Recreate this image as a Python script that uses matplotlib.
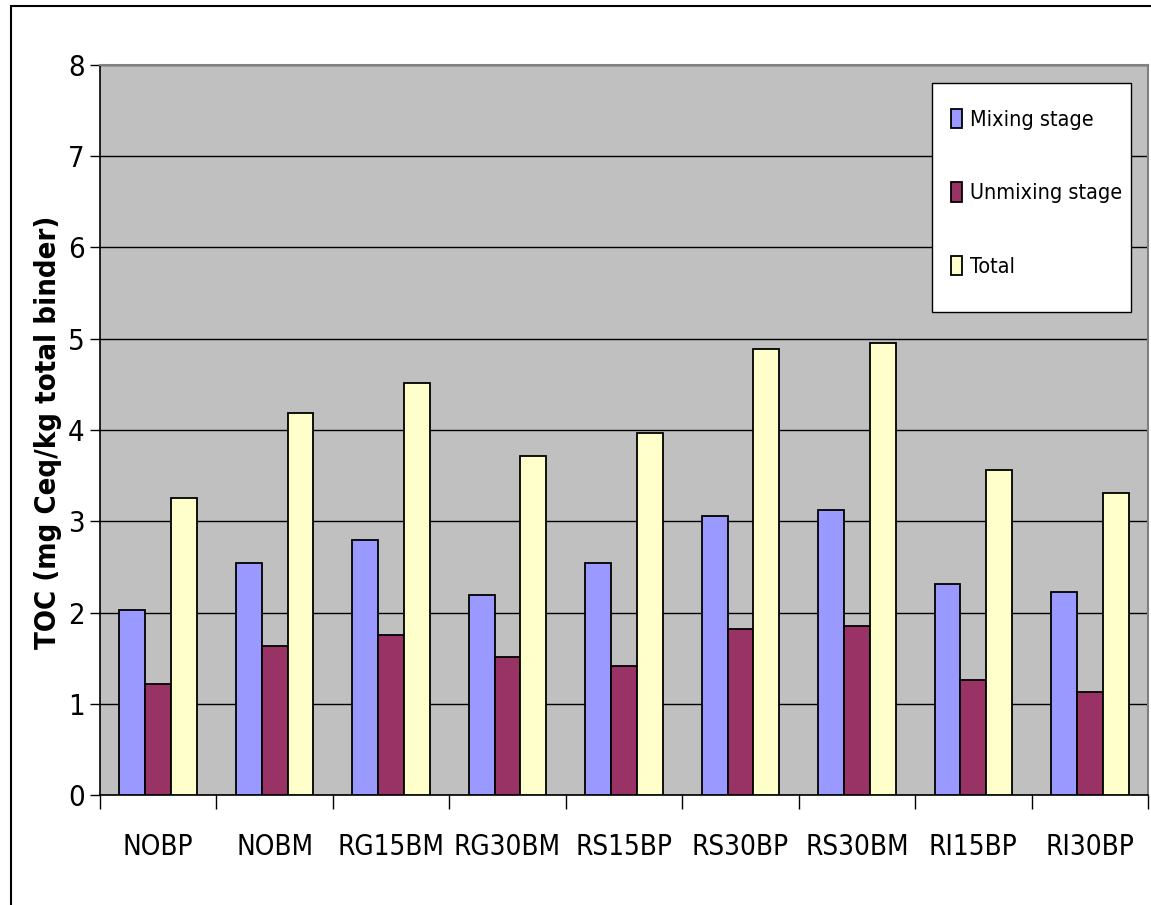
import matplotlib
matplotlib.use("Agg")
import matplotlib.pyplot as plt
import numpy as np
from matplotlib import font_manager
from matplotlib.font_manager import FontProperties
from matplotlib.patches import Rectangle
from matplotlib.ticker import FixedLocator, NullFormatter

categories = ["NOBP", "NOBM", "RG15BM", "RG30BM", "RS15BP",
              "RS30BP", "RS30BM", "RI15BP", "RI30BP"]
mixing = [2.03, 2.54, 2.79, 2.19, 2.54, 3.06, 3.12, 2.31, 2.22]
unmixing = [1.22, 1.63, 1.75, 1.51, 1.41, 1.82, 1.85, 1.26, 1.13]
total = [3.26, 4.19, 4.52, 3.72, 3.97, 4.89, 4.95, 3.56, 3.31]
series_names = ["Mixing stage", "Unmixing stage", "Total"]
y_ticks = [0, 1, 2, 3, 4, 5, 6, 7, 8]
y_label = "TOC (mg Ceq/kg total binder)"

colors = ["#9999FF", "#993366", "#FFFFCC"]


def narrow_font(size, weight="normal"):
    """Return a condensed sans font if one is installed, else Liberation Sans."""
    cands = []
    for f in font_manager.fontManager.ttflist:
        nm = f.name.lower()
        fn = f.fname.lower()
        cond = ("narrow" in nm or "condensed" in nm or "narrow" in fn
                or "condensed" in fn or str(f.stretch) in ("condensed", "semi-condensed"))
        if not cond or "oblique" in fn or "italic" in fn:
            continue
        if "mono" in nm or "serif" in nm and "sans" not in nm:
            continue
        bold = f.weight in ("bold", 700) or "bold" in fn
        if bold != (weight == "bold"):
            continue
        rank = 0 if "liberation" in nm else (1 if "dejavu" in nm else 2)
        cands.append((rank, f.fname))
    if cands:
        cands.sort()
        return FontProperties(fname=cands[0][1], size=size)
    return FontProperties(family="Liberation Sans", size=size, weight=weight)


have_narrow = narrow_font(10).get_file() is not None

fig = plt.figure(figsize=(11.51, 9.05), dpi=100)
ax = fig.add_axes([100 / 1151, 110 / 905, 1048 / 1151, 730 / 905])
ax.set_facecolor("#C0C0C0")

x = np.arange(len(categories))
w = 1 / 4.5
for i, (vals, col, name) in enumerate(zip([mixing, unmixing, total], colors, series_names)):
    ax.bar(x + (i - 1) * w, vals, width=w, color=col, edgecolor="black",
           linewidth=1.3, label=name, zorder=3)

tick_fp = narrow_font(20 if have_narrow else 15)
ax.set_xlim(-0.5, len(categories) - 0.5)
ax.set_ylim(0, 8)
ax.set_yticks(y_ticks)
ax.set_yticklabels([str(t) for t in y_ticks], fontproperties=narrow_font(21))
ax.yaxis.grid(True, color="black", linewidth=1.0, zorder=1)
ax.set_axisbelow(True)

ax.set_xticks(x)
ax.set_xticklabels(categories, fontproperties=tick_fp)
ax.tick_params(axis="x", which="major", length=0, pad=27)
ax.xaxis.set_minor_locator(FixedLocator(np.arange(-0.5, len(categories), 1.0)))
ax.xaxis.set_minor_formatter(NullFormatter())
ax.tick_params(axis="x", which="minor", length=10, width=1, color="black")
ax.tick_params(axis="y", length=7, width=1, pad=4)

for side in ("left", "bottom"):
    ax.spines[side].set_color("black")
    ax.spines[side].set_linewidth(1.2)
for side in ("top", "right"):
    ax.spines[side].set_color("#808080")
    ax.spines[side].set_linewidth(1.5)

fig.text(48 / 1151, 1 - 432 / 905, y_label, rotation=90, ha="center", va="center",
         fontproperties=narrow_font(21 if have_narrow else 18, "bold"))

# legend box with fixed extent, entries laid out inside it
ax.add_patch(Rectangle((932 / 1151, 1 - 312 / 905), 199 / 1151, 229 / 905,
                       transform=fig.transFigure, facecolor="white",
                       edgecolor="black", linewidth=1.0, zorder=4, clip_on=False))
leg_fs = 15.5
leg = ax.legend(loc="upper left", bbox_to_anchor=(942 / 1151, 1 - 100 / 905),
                bbox_transform=fig.transFigure,
                prop=narrow_font(leg_fs if have_narrow else 14),
                frameon=False, handlelength=0.55, handleheight=1.0, handletextpad=0.35,
                labelspacing=2.45, borderpad=0.4, borderaxespad=0)
leg.set_zorder(5)

# outer chart border
fig.patches.append(Rectangle((11 / 1151, -0.05), 1.2, 1 - 6 / 905 + 0.05,
                             transform=fig.transFigure, fill=False,
                             edgecolor="black", linewidth=1.5))

fig.savefig("out.png", dpi=100)
